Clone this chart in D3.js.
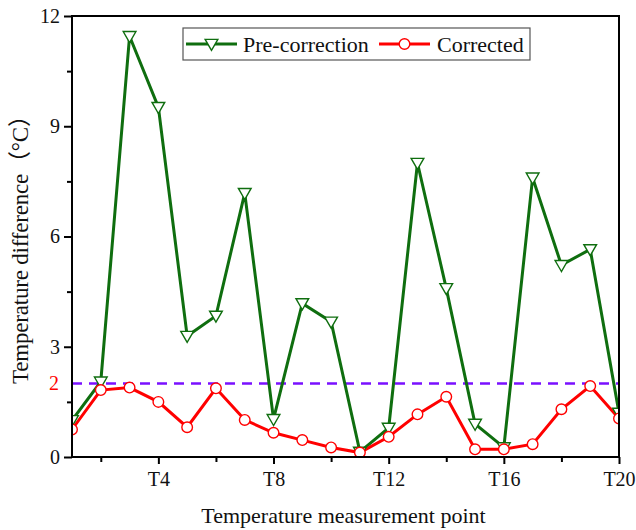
<!DOCTYPE html>
<html>
<head>
<meta charset="utf-8">
<script src="https://cdn.jsdelivr.net/npm/d3@7"></script>
<style>
  body { margin: 0; background: #fff; }
  svg { display: block; font-family: "Liberation Serif", "Noto Sans CJK SC", serif; }
</style>
</head>
<body>
<svg id="chart" width="636" height="530"></svg>
<script>
// ====== 데이터 ======
const points = d3.range(1, 21).map(i => "T" + i);
const preCorrection = [1.0, 2.05, 11.45, 9.52, 3.29, 3.84, 7.18, 1.03, 4.18, 3.68,
                       0.14, 0.79, 8.0, 4.59, 0.9, 0.26, 7.6, 5.22, 5.65, 1.2];
const corrected = [0.75, 1.82, 1.89, 1.5, 0.81, 1.87, 1.01, 0.66, 0.46, 0.26,
                   0.12, 0.55, 1.16, 1.64, 0.21, 0.21, 0.35, 1.3, 1.93, 1.05];
const yTicks = [0, 3, 6, 9, 12];
const xTickLabels = ["T4", "T8", "T12", "T16", "T20"];
const threshold = 2;

const green = "#0f6e0f", red = "#ff0000", purple = "#7a10ff";
const serif = "'Liberation Serif', 'Noto Sans CJK SC', serif";

const svg = d3.select("#chart");
const margin = { top: 16, right: 17, bottom: 73, left: 72 };
const width = 636 - margin.left - margin.right;
const height = 530 - margin.top - margin.bottom;

const x = d3.scalePoint().domain(points).range([0, width]);
const y = d3.scaleLinear().domain([0, 12]).range([height, 0]);

const g = svg.append("g").attr("transform", `translate(${margin.left},${margin.top})`);

g.append("clipPath").attr("id", "clip")
  .append("rect").attr("width", width).attr("height", height);

// 기준선 (2℃)
g.append("line")
  .attr("x1", 0).attr("x2", width)
  .attr("y1", y(threshold)).attr("y2", y(threshold))
  .attr("stroke", purple).attr("stroke-width", 2.5)
  .attr("stroke-dasharray", "10,7");

const plot = g.append("g").attr("clip-path", "url(#clip)");

const line = d3.line().x((d, i) => x(points[i])).y(d => y(d));

// 보정 전
plot.append("path").datum(preCorrection)
  .attr("d", line).attr("fill", "none")
  .attr("stroke", green).attr("stroke-width", 3);

// 보정 후
plot.append("path").datum(corrected)
  .attr("d", line).attr("fill", "none")
  .attr("stroke", red).attr("stroke-width", 3);

const tri = d3.symbol().type(d3.symbolTriangle).size(70);

plot.selectAll(".tri").data(preCorrection).join("path")
  .attr("class", "tri")
  .attr("d", tri)
  .attr("transform", (d, i) => `translate(${x(points[i])},${y(d) - 1}) rotate(180)`)
  .attr("fill", "#fff").attr("stroke", green).attr("stroke-width", 1.4);

plot.selectAll(".dot").data(corrected).join("circle")
  .attr("class", "dot")
  .attr("cx", (d, i) => x(points[i]))
  .attr("cy", d => y(d))
  .attr("r", 5.3)
  .attr("fill", "#fff").attr("stroke", red).attr("stroke-width", 1.4);

// 축
const xAxis = g.append("g").attr("transform", `translate(0,${height})`)
  .call(d3.axisBottom(x)
    .tickValues(points.filter((p, i) => (i + 1) % 2 === 0))
    .tickSize(6)
    .tickFormat(p => xTickLabels.includes(p) ? p : ""))
  .attr("font-family", serif).attr("font-size", 20);
xAxis.selectAll(".tick line")
  .attr("stroke-width", 2)
  .attr("y2", p => xTickLabels.includes(p) ? 7 : 5);
xAxis.selectAll(".tick text").attr("y", 15).attr("fill", "#111");

const yMinor = d3.range(1.5, 12, 3);
const yAxis = g.append("g")
  .call(d3.axisLeft(y).tickValues(yTicks.concat(yMinor)).tickSize(8)
    .tickFormat(d => yTicks.includes(d) ? d : ""))
  .attr("font-family", serif).attr("font-size", 20);
yAxis.selectAll(".tick line")
  .attr("stroke-width", 2)
  .attr("x2", d => yTicks.includes(d) ? -8 : -5);
yAxis.selectAll(".tick text").attr("x", -12).attr("fill", "#111");

svg.selectAll(".domain").remove();

// 테두리
g.append("rect")
  .attr("width", width).attr("height", height)
  .attr("fill", "none").attr("stroke", "#000").attr("stroke-width", 2);

// 빨간 2 라벨
g.append("text")
  .attr("x", -13).attr("y", y(threshold))
  .attr("dy", "0.32em")
  .attr("text-anchor", "end")
  .style("font-size", "20px").attr("fill", red)
  .text(threshold);

// 축 제목
svg.append("text")
  .attr("x", margin.left + width / 2 - 2).attr("y", 523)
  .attr("text-anchor", "middle").style("font-size", "22px")
  .attr("fill", "#111")
  .text("Temperature measurement point");

svg.append("text")
  .attr("transform", `translate(28,244) rotate(-90)`)
  .attr("text-anchor", "middle").style("font-size", "23px")
  .attr("textLength", 280).attr("lengthAdjust", "spacing")
  .attr("fill", "#111")
  .text("Temperature difference（°C）");

// 범례
const legend = svg.append("g").attr("transform", "translate(183,28)");
legend.append("rect").attr("width", 347).attr("height", 32)
  .attr("fill", "#fff").attr("stroke", "#555").attr("stroke-width", 1.2);

const items = [
  { label: "Pre-correction", color: green, x0: 3, text: 60, marker: "tri" },
  { label: "Corrected", color: red, x0: 196, text: 254, marker: "dot" }
];
items.forEach(it => {
  legend.append("line")
    .attr("x1", it.x0).attr("x2", it.x0 + 51)
    .attr("y1", 16).attr("y2", 16)
    .attr("stroke", it.color).attr("stroke-width", 3);
  if (it.marker === "tri") {
    legend.append("path").attr("d", tri)
      .attr("transform", `translate(${it.x0 + 25.5},15) rotate(180)`)
      .attr("fill", "#fff").attr("stroke", it.color).attr("stroke-width", 1.4);
  } else {
    legend.append("circle").attr("cx", it.x0 + 25.5).attr("cy", 16).attr("r", 5.3)
      .attr("fill", "#fff").attr("stroke", it.color).attr("stroke-width", 1.4);
  }
  legend.append("text")
    .attr("x", it.text).attr("y", 24)
    .style("font-size", "22px").attr("fill", "#111")
    .text(it.label);
});
</script>
</body>
</html>
